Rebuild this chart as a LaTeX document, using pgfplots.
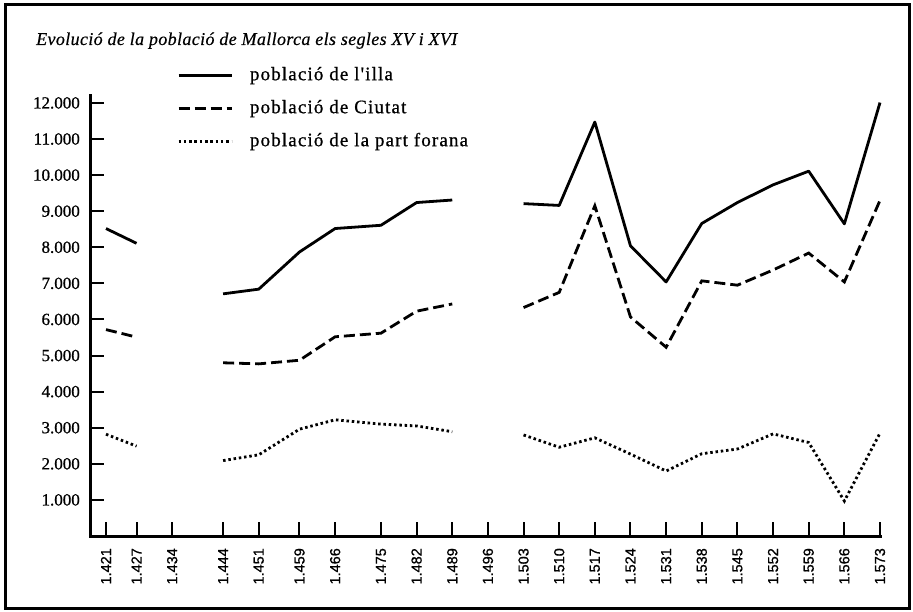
\documentclass[border=0pt]{standalone}
\usepackage{pgfplots}
\pgfplotsset{compat=1.18}
\usepackage{fontspec}
\setmainfont[FakeBold=0.6]{Liberation Serif}
\newfontfamily\titlefont[LetterSpace=2, FakeBold=0.4]{Liberation Serif}
\newfontfamily\legfont[LetterSpace=6, FakeBold=0.8]{Liberation Serif}
\newfontfamily\ylabfont[FakeBold=0.8]{Liberation Serif}
\newfontfamily\xlabfont[FakeBold=0.8]{Liberation Sans}
\begin{document}
\begin{tikzpicture}
\useasboundingbox (0pt,0pt) rectangle (913pt,-612pt);
\draw[line width=3pt] (5pt,-5pt) rectangle (909pt,-608pt);
\node[anchor=base west, inner sep=0pt, font=\titlefont\itshape\fontsize{18}{21}\selectfont] at (36pt,-45pt) {Evolució de la població de Mallorca els segles XV i XVI};
\begin{axis}[
  at={(90pt,-536pt)}, anchor=south west,
  scale only axis, width=790pt, height=441pt,
  xmin=1417.86, xmax=1573, ymin=0, ymax=12220,
  scaled y ticks=false, scaled x ticks=false,
  axis x line*=bottom, axis y line*=left,
  axis line style={line width=3pt, line cap=rect},
  tick align=inside, major tick length=14pt,
  tick style={line width=2pt, black},
  xtick={1421,1427,1434,1444,1451,1459,1466,1475,1482,1489,1496,1503,1510,1517,1524,1531,1538,1545,1552,1559,1566,1573},
  xticklabels={1.421,1.427,1.434,1.444,1.451,1.459,1.466,1.475,1.482,1.489,1.496,1.503,1.510,1.517,1.524,1.531,1.538,1.545,1.552,1.559,1.566,1.573},
  ytick={1000,2000,3000,4000,5000,6000,7000,8000,9000,10000,11000,12000},
  yticklabels={1.000,2.000,3.000,4.000,5.000,6.000,7.000,8.000,9.000,10.000,11.000,12.000},
  xticklabel style={font=\xlabfont\fontsize{14.5}{16}\selectfont, rotate=90, anchor=east, inner xsep=12pt, inner ysep=0pt},
  yticklabel style={font=\ylabfont\fontsize{17}{20}\selectfont, anchor=east, inner xsep=10pt, inner ysep=0pt},
  unbounded coords=jump,
  clip=false,
  legend style={at={(axis description cs:0.1101,1.0658)}, anchor=north west, draw=none, fill=none, inner sep=0pt,
    row sep=15pt, column sep=17pt, font=\legfont\fontsize{19}{22}\selectfont,
    nodes={inner sep=0pt, text height=14pt, text depth=4pt}},
  legend cell align=left,
  legend image code/.code={\draw[#1] (0pt,0pt) -- (53pt,0pt);},
]
\addplot[black, line width=2.8pt, line join=round] table {
x y
1421 8520
1427 8110
1434 nan
1444 6710
1451 6840
1459 7870
1466 8520
1475 8610
1482 9240
1489 9310
1496 nan
1503 9210
1510 9160
1517 11470
1524 8040
1531 7040
1538 8660
1545 9240
1552 9730
1559 10110
1566 8650
1573 12010
};
\addlegendentry{població de l'illa}
\addplot[black, line width=2.8pt, dash pattern=on 11pt off 5pt] table {
x y
1421 5720
1427 5510
1434 nan
1444 4800
1451 4770
1459 4870
1466 5520
1475 5620
1482 6230
1489 6430
1496 nan
1503 6330
1510 6750
1517 9150
1524 6070
1531 5230
1538 7070
1545 6950
1552 7370
1559 7840
1566 7040
1573 9300
};
\addlegendentry{població de Ciutat}
\addplot[black, line width=2.8pt, dash pattern=on 2.5pt off 2.8pt] table {
x y
1421 2820
1427 2490
1434 nan
1444 2090
1451 2250
1459 2960
1466 3220
1475 3100
1482 3050
1489 2890
1496 nan
1503 2800
1510 2460
1517 2720
1524 2270
1531 1800
1538 2280
1545 2410
1552 2830
1559 2590
1566 970
1573 2850
};
\addlegendentry{població de la part forana}
\end{axis}
\end{tikzpicture}
\end{document}
